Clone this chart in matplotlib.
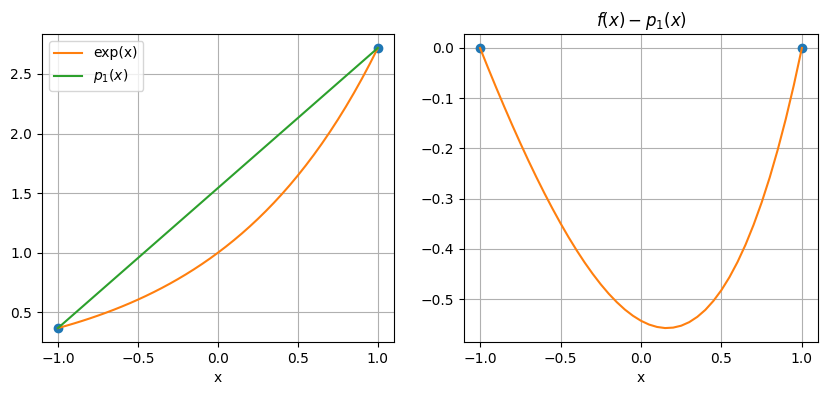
import matplotlib
matplotlib.use('Agg')
import matplotlib.pyplot as plt

# sample points
x = [-1.00, -0.95, -0.90, -0.85, -0.80, -0.75, -0.70, -0.65, -0.60, -0.55,
     -0.50, -0.45, -0.40, -0.35, -0.30, -0.25, -0.20, -0.15, -0.10, -0.05,
     0.00, 0.05, 0.10, 0.15, 0.20, 0.25, 0.30, 0.35, 0.40, 0.45,
     0.50, 0.55, 0.60, 0.65, 0.70, 0.75, 0.80, 0.85, 0.90, 0.95, 1.00]

exp_vals = [0.3679, 0.3867, 0.4066, 0.4274, 0.4493, 0.4724, 0.4966, 0.5220, 0.5488, 0.5769,
            0.6065, 0.6376, 0.6703, 0.7047, 0.7408, 0.7788, 0.8187, 0.8607, 0.9048, 0.9512,
            1.0000, 1.0513, 1.1052, 1.1618, 1.2214, 1.2840, 1.3499, 1.4191, 1.4918, 1.5683,
            1.6487, 1.7333, 1.8221, 1.9155, 2.0138, 2.1170, 2.2255, 2.3396, 2.4596, 2.5857, 2.7183]

err_vals = [0.0, -0.0399, -0.0788, -0.1167, -0.1536, -0.1893, -0.2239, -0.2572, -0.2892, -0.3198,
            -0.3490, -0.3767, -0.4027, -0.4271, -0.4497, -0.4705, -0.4894, -0.5061, -0.5208, -0.5331,
            -0.5431, -0.5506, -0.5554, -0.5576, -0.5567, -0.5529, -0.5458, -0.5353, -0.5214, -0.5036,
            -0.4820, -0.4562, -0.4261, -0.3915, -0.3519, -0.3075, -0.2578, -0.2024, -0.1412, -0.0738, 0.0]

nodes_x = [-1.0, 1.0]
nodes_y = [0.3679, 2.7183]
p1_vals = [0.3679, 2.7183]
node_err = [0.0, 0.0]

fig = plt.figure(figsize=(8.26, 3.95), dpi=100)
ax1 = fig.add_axes([0.0508, 0.134, 0.426, 0.780])
ax2 = fig.add_axes([0.5617, 0.134, 0.4286, 0.780])

ax1.plot(nodes_x, nodes_y, 'o', color='C0')
ax1.plot(x, exp_vals, color='C1', label='exp(x)')
ax1.plot(nodes_x, p1_vals, color='C2', label='$p_1(x)$')
ax1.set_xlabel('x')
ax1.grid(True)
ax1.legend(loc='upper left')

ax2.plot(nodes_x, node_err, 'o', color='C0')
ax2.plot(x, err_vals, color='C1')
ax2.set_xlabel('x')
ax2.set_title('$f(x) - p_1(x)$')
ax2.grid(True)

fig.savefig('out.png', dpi=100)
